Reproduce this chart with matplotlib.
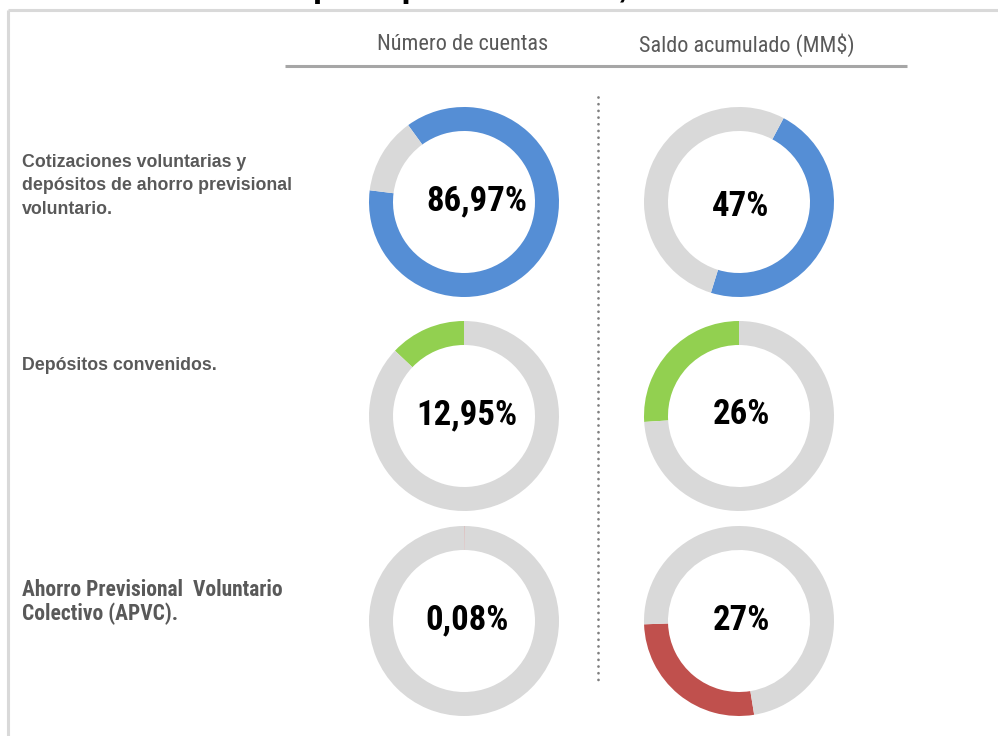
import matplotlib
matplotlib.use('Agg')
import matplotlib.pyplot as plt

NARROW = ['Roboto Condensed', 'Liberation Sans', 'DejaVu Sans']
plt.rcParams['font.family'] = ['Liberation Sans', 'DejaVu Sans']

# data
title = 'Distribución por tipo de ahorro, 2023'
col_headers = ['Número de cuentas', 'Saldo acumulado (MM$)']
row_labels = ['Cotizaciones voluntarias y\ndepósitos de ahorro previsional\nvoluntario.',
              'Depósitos convenidos.',
              'Ahorro Previsional  Voluntario\nColectivo (APVC).']
cuentas_pct = [86.97, 12.95, 0.08]
saldo_pct = [47, 26, 27]
row_colors = ['#558ED5', '#92D050', '#C0504D']
GRAY = '#D9D9D9'

# layout (pixels, from top-left)
W, H = 998, 736
col_x = [464, 739]
row_y = [202, 416, 621]
R, RING = 95, 24
start_cuentas = [(126, False), (90, True), (90, False)]
start_saldo = [(62, False), (90, True), (182, True)]

fig = plt.figure(figsize=(W / 100, H / 100), dpi=100)
ax = fig.add_axes([0, 0, 1, 1])
ax.set_xlim(0, W)
ax.set_ylim(0, H)
ax.set_aspect('equal')
ax.axis('off')


def Y(y):
    return H - y


# frame of the slide
ax.plot([8.5, W], [Y(10), Y(10)], color='#D9D9D9', lw=2.2, solid_capstyle='butt')
ax.plot([8.5, 8.5], [Y(10), 0], color='#D9D9D9', lw=2.2, solid_capstyle='butt')

# title, cut off by the top of the screenshot
fig.text(96 / W, 1 + 3 / H, title, ha='left', va='baseline',
         fontsize=25.5, fontweight='bold', color='black')

# headers
for x, h in zip([463, 747], col_headers):
    ax.text(x, Y(45), h, ha='center', va='center', fontsize=16,
            family=NARROW, color='#595959')
ax.plot([285, 907], [Y(66), Y(66)], color='#A6A6A6', lw=2.2, solid_capstyle='butt')

# dotted separator
ax.plot([598, 598], [Y(97), Y(680)], color='#7F7F7F', lw=2,
        linestyle=(0, (0.01, 2.4)), dash_capstyle='round')

# row labels
ax.text(22, Y(186), row_labels[0], ha='left', va='center', fontsize=12.8,
        fontweight='bold', color='#595959', linespacing=1.5)
ax.text(22, Y(366), row_labels[1], ha='left', va='center', fontsize=12.8,
        fontweight='bold', color='#595959')
ax.text(22, Y(602), row_labels[2], ha='left', va='center', fontsize=15.5,
        fontweight='bold', color='#595959', family=NARROW, linespacing=1.08)

# donuts
for i in range(3):
    for j, (vals, starts) in enumerate([(cuentas_pct, start_cuentas), (saldo_pct, start_saldo)]):
        v = vals[i]
        sa, ccw = starts[i]
        ax.pie([v, 100 - v], colors=[row_colors[i], GRAY], startangle=sa,
               counterclock=ccw, radius=R, center=(col_x[j], Y(row_y[i])),
               wedgeprops=dict(width=RING, linewidth=0), frame=True)
        if j == 0:
            txt = f'{v:.2f}'.replace('.', ',') + '%'
            dx = 13 if i == 0 else 3
        else:
            txt = f'{v:.0f}%'
            dx = 2
        dy = 5 if (i == 0 and j == 1) else -1
        ax.text(col_x[j] + dx, Y(row_y[i] + dy), txt, ha='center', va='center',
                fontsize=25, fontweight='bold', family=NARROW, color='black')

ax.set_xlim(0, W)
ax.set_ylim(0, H)
ax.axis('off')

fig.savefig('out.png', dpi=100)
